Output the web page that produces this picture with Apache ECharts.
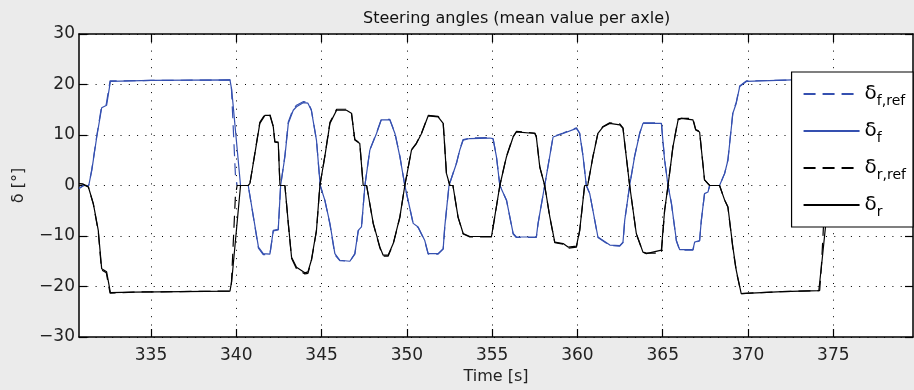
<!DOCTYPE html>
<html>
<head>
<meta charset="utf-8">
<script src="https://cdn.jsdelivr.net/npm/echarts@6/dist/echarts.min.js"></script>
<style>
  html, body { margin: 0; padding: 0; background: #ebebeb; }
  #chart { width: 914px; height: 390px; }
</style>
</head>
<body>
<div id="chart"></div>
<script>
// time [s], angle [deg]
const frontRef = [[330.78,-0.6],[331.05,0],[331.35,0],[331.53,3.2],[331.82,9.8],[332.1,15.6],[332.38,16.1],[332.6,20.7],[335,20.8],[339.63,20.9],[339.7,20.4],[339.95,2],[340.05,0],[340.7,0],[341.3,-12.4],[341.58,-13.7],[341.97,-13.7],[342.17,-9.0],[342.46,-8.8],[342.6,0],[342.85,5.9],[343.05,12.6],[343.34,15.2],[343.53,15.9],[343.92,16.6],[344.2,16.5],[344.4,15.0],[344.7,9.0],[344.92,0],[345.19,-2.9],[345.49,-7.7],[345.78,-13.7],[346.07,-14.9],[346.66,-15.0],[346.95,-13.6],[347.15,-9.0],[347.34,-8.3],[347.54,0],[347.83,7.1],[348.22,10.4],[348.5,13.1],[349.0,13.1],[349.3,10.4],[349.59,5.8],[349.88,0],[350.37,-7.6],[350.66,-8.3],[351.05,-11.0],[351.25,-13.6],[351.83,-13.6],[352.13,-12.6],[352.22,-8.3],[352.47,0],[352.91,4.5],[353.1,7.1],[353.3,9.1],[353.69,9.4],[354.86,9.5],[355.05,9.4],[355.25,5.8],[355.45,0],[355.84,-2.9],[356.23,-9.6],[356.42,-10.3],[357.59,-10.3],[357.69,-7.6],[358.08,0],[358.57,9.7],[359.16,10.4],[359.94,11.4],[360.13,10.4],[360.33,5.8],[360.52,0],[360.72,-1.6],[361.2,-10.3],[361.9,-11.9],[362.48,-12.0],[362.67,-11.3],[362.77,-7.0],[363.06,0],[363.35,5.8],[363.65,10.4],[363.84,12.4],[364.92,12.4],[365.11,5.1],[365.31,0],[365.51,-3.6],[365.8,-11.0],[365.99,-12.8],[366.77,-12.8],[366.87,-11.3],[367.16,-11.0],[367.26,-7.0],[367.45,-1.6],[367.65,-1.3],[367.75,0],[368.33,0],[368.63,2.4],[368.82,5.1],[369.11,14.5],[369.31,16.5],[369.51,19.7],[369.9,20.7],[372.6,20.9],[374.4,21.0],[374.6,0],[376,0]];
const front = [[330.78,-0.6],[331.05,0],[331.35,0],[331.53,3.0],[331.82,9.6],[332.11,15.4],[332.4,15.9],[332.62,20.6],[335,20.8],[339.63,20.9],[339.73,19.0],[340.25,0],[340.7,0],[341.3,-12.2],[341.58,-13.5],[341.97,-13.6],[342.17,-8.9],[342.46,-8.7],[342.6,0],[342.85,5.7],[343.05,12.3],[343.34,14.9],[343.53,15.6],[343.92,16.4],[344.2,16.3],[344.4,14.9],[344.7,9.0],[344.92,0],[345.19,-2.9],[345.49,-7.5],[345.78,-13.5],[346.07,-14.8],[346.66,-15.0],[346.95,-13.5],[347.15,-8.9],[347.34,-8.2],[347.54,0],[347.83,7.0],[348.22,10.3],[348.5,13.0],[349.0,13.0],[349.3,10.3],[349.59,5.7],[349.88,0],[350.37,-7.5],[350.66,-8.2],[351.05,-10.9],[351.25,-13.5],[351.83,-13.5],[352.13,-12.5],[352.22,-8.2],[352.47,0],[352.91,4.4],[353.1,7.0],[353.3,9.0],[353.69,9.3],[354.86,9.4],[355.05,9.3],[355.25,5.7],[355.45,0],[355.84,-2.9],[356.23,-9.5],[356.42,-10.2],[357.59,-10.2],[357.69,-7.5],[358.08,0],[358.57,9.6],[359.16,10.3],[359.94,11.3],[360.13,10.3],[360.33,5.7],[360.52,0],[360.72,-1.6],[361.2,-10.2],[361.9,-11.8],[362.48,-11.9],[362.67,-11.2],[362.77,-6.9],[363.06,0],[363.35,5.7],[363.65,10.3],[363.84,12.3],[364.92,12.3],[365.11,5.0],[365.31,0],[365.51,-3.6],[365.8,-10.9],[365.99,-12.7],[366.77,-12.7],[366.87,-11.2],[367.16,-10.9],[367.26,-6.9],[367.45,-1.6],[367.65,-1.3],[367.75,0],[368.33,0],[368.63,2.4],[368.82,5.0],[369.11,14.3],[369.31,16.3],[369.51,19.6],[369.9,20.6],[372.6,20.9],[374.4,21.0],[374.9,0],[376,0]];
const rearRef = [[330.78,0.4],[331.0,0.3],[331.33,-0.3],[331.62,-3.7],[331.91,-9.1],[332.1,-16.7],[332.38,-17.3],[332.6,-21.3],[334,-21.1],[339.63,-20.9],[339.7,-20.4],[339.95,-2],[340.05,0],[340.7,0],[340.8,0.4],[341.09,6.4],[341.38,12.5],[341.68,14.1],[341.97,14.1],[342.17,11.7],[342.26,8.7],[342.46,8.6],[342.56,0],[342.85,0],[343.05,-7.6],[343.24,-14.4],[343.53,-16.5],[344.02,-17.5],[344.2,-17.4],[344.4,-15.0],[344.7,-9.0],[344.9,0],[345.19,5.8],[345.49,12.5],[345.88,15.1],[346.46,15.1],[346.75,14.5],[346.95,9.1],[347.24,8.4],[347.44,0],[347.64,0],[348.03,-7.6],[348.42,-12.4],[348.61,-14.0],[348.9,-14.0],[349.2,-11.6],[349.59,-6.3],[349.88,0],[350.27,7.1],[350.56,8.4],[350.86,10.4],[351.25,13.9],[351.83,13.7],[352.13,12.4],[352.32,2.4],[352.52,0],[352.7,0],[353.0,-6.3],[353.3,-9.6],[353.69,-10.2],[354.96,-10.2],[355.15,-6.3],[355.45,0],[355.84,5.8],[356.23,9.7],[356.42,10.7],[357.5,10.4],[357.59,9.7],[357.79,3.7],[358.08,0],[358.38,-6.3],[358.67,-11.3],[359.16,-11.6],[359.45,-12.4],[359.94,-12.2],[360.13,-9.0],[360.42,0],[360.6,0],[360.91,5.8],[361.2,10.4],[361.5,11.7],[361.89,12.4],[362.48,12.2],[362.67,11.4],[362.77,8.4],[363.06,0],[363.45,-9.6],[363.84,-13.2],[364.04,-13.4],[364.92,-13.4],[365.11,-5.0],[365.31,0],[365.6,7.8],[365.9,13.2],[366.09,13.3],[366.77,13.3],[366.93,11.1],[367.16,10.7],[367.45,1.1],[367.75,0],[368.33,0],[368.63,-2.9],[368.82,-4.3],[369.11,-12.4],[369.31,-17.0],[369.6,-21.4],[372,-21.0],[374.2,-20.8],[374.3,-16],[374.5,-3],[374.6,0],[376,0]];
const rear = [[330.78,0.4],[331.0,0.3],[331.33,-0.3],[331.62,-3.6],[331.91,-8.9],[332.11,-16.5],[332.4,-17.1],[332.62,-21.2],[334,-21.1],[339.63,-20.9],[339.73,-19.0],[340.25,0],[340.7,0],[340.8,0.4],[341.09,6.3],[341.38,12.3],[341.68,13.9],[341.97,13.9],[342.17,11.6],[342.26,8.6],[342.46,8.5],[342.56,0],[342.85,0],[343.05,-7.5],[343.24,-14.2],[343.53,-16.2],[344.02,-17.3],[344.2,-17.1],[344.4,-14.8],[344.7,-8.9],[344.9,0],[345.19,5.7],[345.49,12.3],[345.88,14.9],[346.46,14.9],[346.75,14.3],[346.95,9.0],[347.24,8.3],[347.44,0],[347.64,0],[348.03,-7.5],[348.42,-12.2],[348.61,-13.8],[348.9,-13.8],[349.2,-11.5],[349.59,-6.2],[349.88,0],[350.27,7.0],[350.56,8.3],[350.86,10.3],[351.25,13.8],[351.83,13.6],[352.13,12.3],[352.32,2.4],[352.52,0],[352.7,0],[353.0,-6.2],[353.3,-9.5],[353.69,-10.1],[354.96,-10.1],[355.15,-6.2],[355.45,0],[355.84,5.7],[356.23,9.6],[356.42,10.6],[357.5,10.3],[357.59,9.6],[357.79,3.7],[358.08,0],[358.38,-6.2],[358.67,-11.2],[359.16,-11.5],[359.45,-12.2],[359.94,-12.0],[360.13,-8.9],[360.42,0],[360.6,0],[360.91,5.7],[361.2,10.3],[361.5,11.6],[361.89,12.3],[362.48,12.0],[362.67,11.3],[362.77,8.3],[363.06,0],[363.45,-9.5],[363.84,-13.2],[364.04,-13.5],[364.92,-12.8],[365.11,-4.9],[365.31,0],[365.6,7.7],[365.9,13.0],[366.09,13.3],[366.77,13.0],[366.93,11.0],[367.16,10.6],[367.45,1.1],[367.75,0],[368.33,0],[368.63,-2.9],[368.82,-4.2],[369.11,-12.2],[369.31,-16.8],[369.6,-21.4],[372,-21.0],[374.15,-20.8],[374.34,-14.8],[374.54,-8.2],[374.8,0],[376,0]];

const xTicks = [335, 340, 345, 350, 355, 360, 365, 370, 375];
const xRange = [330.78, 379.67];
const yRange = [-30, 30];

const FONT = "DejaVu Sans";
const BLUE = "#3550b0";
const BLACK = "#000";

const gridDots = { show: true, lineStyle: { color: "#000", width: 1, type: [1, 7.3] } };
const frameLine = { show: true, onZero: false, lineStyle: { color: "#000", width: 1.5 } };
const inTick = { show: true, inside: true, length: 8, lineStyle: { color: "#000", width: 1.2 } };

const legendNames = { fRef: "δ_f,ref", f: "δ_f", rRef: "δ_r,ref", r: "δ_r" };

const chart = echarts.init(document.getElementById("chart"));

const mkLine = (name, data, color, dashed) => ({
  name,
  type: "line",
  data,
  symbol: "none",
  clip: true,
  animation: false,
  lineStyle: { color, width: 1.2, type: dashed ? [12, 7] : "solid" },
  itemStyle: { color },
});

chart.setOption({
  backgroundColor: "#ebebeb",
  textStyle: { fontFamily: FONT },
  title: {
    text: "Steering angles (mean value per axle)",
    left: 363,
    top: 11,
    padding: 0,
    textStyle: { fontFamily: FONT, fontSize: 16, fontWeight: "normal", color: "#111" },
  },
  grid: { left: 79, top: 34, right: 1, bottom: 53, show: true, backgroundColor: "#fff", borderWidth: 0 },
  legend: {
    orient: "vertical",
    right: 1,
    top: 72,
    padding: [8, 7, 8, 11],
    itemGap: 9,
    itemWidth: 56,
    itemHeight: 14,
    backgroundColor: "#fff",
    borderColor: "#000",
    borderWidth: 1.2,
    z: 10,
    itemStyle: { opacity: 0, borderWidth: 0 },
    data: [legendNames.fRef, legendNames.f, legendNames.rRef, legendNames.r],
    formatter: (name) => {
      const [main, sub] = name.split("_");
      return `{m|${main}}{s|${sub}}`;
    },
    textStyle: {
      rich: {
        m: { fontFamily: FONT, fontSize: 20, color: "#000", lineHeight: 22 },
        s: { fontFamily: FONT, fontSize: 14, color: "#000", padding: [14, 0, 0, 0], lineHeight: 14 },
      },
    },
  },
  xAxis: [
    {
      type: "value",
      min: xRange[0],
      max: xRange[1],
      position: "bottom",
      name: "Time [s]",
      nameLocation: "middle",
      nameGap: 30,
      nameTextStyle: { fontFamily: FONT, fontSize: 16, color: "#222" },
      axisLine: frameLine,
      axisTick: { ...inTick, customValues: xTicks },
      axisLabel: { customValues: xTicks, fontFamily: FONT, fontSize: 17, color: "#222", margin: 10 },
      splitLine: gridDots,
    },
    {
      type: "value",
      min: xRange[0],
      max: xRange[1],
      position: "top",
      axisLine: frameLine,
      axisTick: { ...inTick, customValues: xTicks },
      axisLabel: { show: false },
      splitLine: { show: false },
    },
  ],
  yAxis: [
    {
      type: "value",
      min: yRange[0],
      max: yRange[1],
      interval: 10,
      position: "left",
      name: "δ [°]",
      nameLocation: "middle",
      nameGap: 52,
      nameRotate: 90,
      nameTextStyle: { fontFamily: FONT, fontSize: 16, color: "#222" },
      axisLine: frameLine,
      axisTick: inTick,
      axisLabel: {
        fontFamily: FONT,
        fontSize: 17,
        color: "#222",
        margin: 4,
        formatter: (v) => String(v).replace("-", "\u2212"),
      },
      splitLine: gridDots,
    },
    {
      type: "value",
      min: yRange[0],
      max: yRange[1],
      interval: 10,
      position: "right",
      axisLine: frameLine,
      axisTick: inTick,
      axisLabel: { show: false },
      splitLine: { show: false },
    },
  ],
  series: [
    mkLine(legendNames.fRef, frontRef, BLUE, true),
    mkLine(legendNames.f, front, BLUE, false),
    mkLine(legendNames.rRef, rearRef, BLACK, true),
    mkLine(legendNames.r, rear, BLACK, false),
  ],
});
</script>
</body>
</html>
